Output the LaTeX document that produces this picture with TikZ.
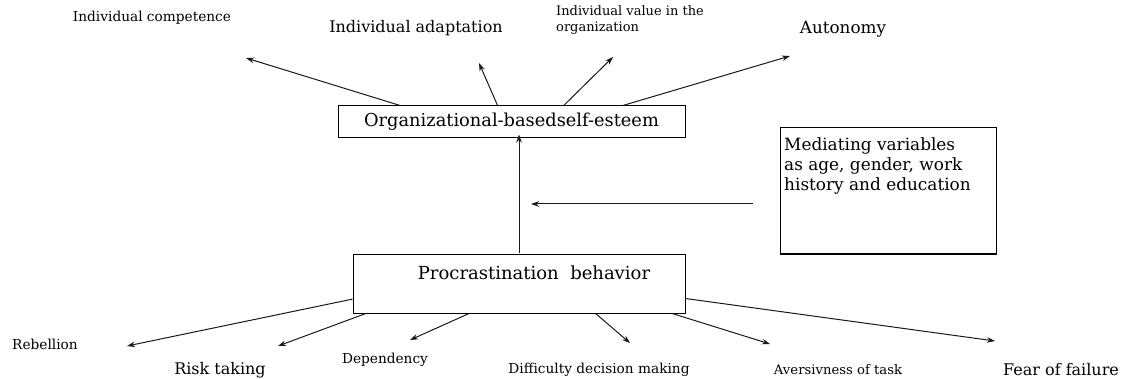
\documentclass[tikz,border=0pt]{standalone}
\usepackage{fontspec}
\setmainfont{DejaVu Serif}
\usetikzlibrary{arrows.meta,calc}

\begin{document}
\begin{tikzpicture}[x=1pt,y=-1pt,
    box/.style={draw,line width=1pt,inner sep=0pt},
    conn/.style={line width=1pt,black!90,-{Stealth[length=8pt,width=5.5pt]}},
    lbl/.style={inner sep=0pt},
    smalltxt/.style={lbl,font=\fontsize{13.7}{16}\selectfont},
    bigtxt/.style={lbl,font=\fontsize{16}{18}\selectfont},
  ]
    \useasboundingbox (0,0) rectangle (1126,379);

    % boxes
    \node[box,minimum width=347pt,minimum height=32pt,font=\fontsize{17.8}{20}\selectfont] (org) at (511.5,122) {Organizational-basedself-esteem};
    \node[box,minimum width=332pt,minimum height=59pt] (proc) at (519,283.5) {};
    \node[lbl,font=\fontsize{18}{20}\selectfont] (proctext) at (534,273) {Procrastination\ \ behavior};
    \node[box,minimum width=216pt,minimum height=126pt] (med) at (888,191) {};
    \node[lbl,anchor=north west,align=left,font=\fontsize{16.9}{20}\selectfont] (medtext) at (784,137)
        {Mediating variables\\as age, gender, work\\history and education};

    % top labels
    \node[smalltxt] (comp) at (152,18) {Individual competence};
    \node[bigtxt] (adapt) at (416,28) {Individual adaptation};
    \node[lbl,anchor=west,align=left,font=\fontsize{13}{16.5}\selectfont] (value) at (556,20) {Individual value in the\\organization};
    \node[lbl,font=\fontsize{16.8}{18}\selectfont] (auto) at (843,29) {Autonomy};

    % bottom labels
    \node[smalltxt] (reb) at (45,344) {Rebellion};
    \node[bigtxt] (risk) at (220,370) {Risk taking};
    \node[smalltxt] (dep) at (385,360) {Dependency};
    \node[smalltxt] (diff) at (599,370) {Difficulty decision making};
    \node[lbl,font=\fontsize{13.2}{16}\selectfont] (aver) at (838,370) {Aversivness of task};
    \node[bigtxt] (fear) at (1061,370) {Fear of failure};

    % arrow tips
    \coordinate (tcomp) at (246,58);
    \coordinate (tadapt) at (479,63);
    \coordinate (tvalue) at (613,57);
    \coordinate (tauto) at (790,56);
    \coordinate (treb) at (127,346);
    \coordinate (trisk) at (278,346);
    \coordinate (tdep) at (410,340);
    \coordinate (tdiff) at (630,343);
    \coordinate (taver) at (770,344);
    \coordinate (tfear) at (995,341);
    \coordinate (medfrom) at (753,204);
    \coordinate (medto) at (531,204);

    % arrows out of self-esteem
    \draw[conn] ($(org.north west)!0.18!(org.north east)$) -- (tcomp);
    \draw[conn] ($(org.north west)!0.46!(org.north east)$) -- (tadapt);
    \draw[conn] ($(org.north west)!0.65!(org.north east)$) -- (tvalue);
    \draw[conn] ($(org.north west)!0.82!(org.north east)$) -- (tauto);

    % procrastination
    \draw[conn] (proc.north) -- ([yshift=4pt]proc.north |- org.south);
    \draw[conn] (medfrom) -- (medto);
    \draw[conn] ($(proc.north west)!0.76!(proc.south west)$) -- (treb);
    \draw[conn] ($(proc.south west)!0.04!(proc.south east)$) -- (trisk);
    \draw[conn] ($(proc.south west)!0.35!(proc.south east)$) -- (tdep);
    \draw[conn] ($(proc.south west)!0.73!(proc.south east)$) -- (tdiff);
    \draw[conn] ($(proc.south west)!0.96!(proc.south east)$) -- (taver);
    \draw[conn] ($(proc.north east)!0.75!(proc.south east)$) -- (tfear);

\end{tikzpicture}
\end{document}
